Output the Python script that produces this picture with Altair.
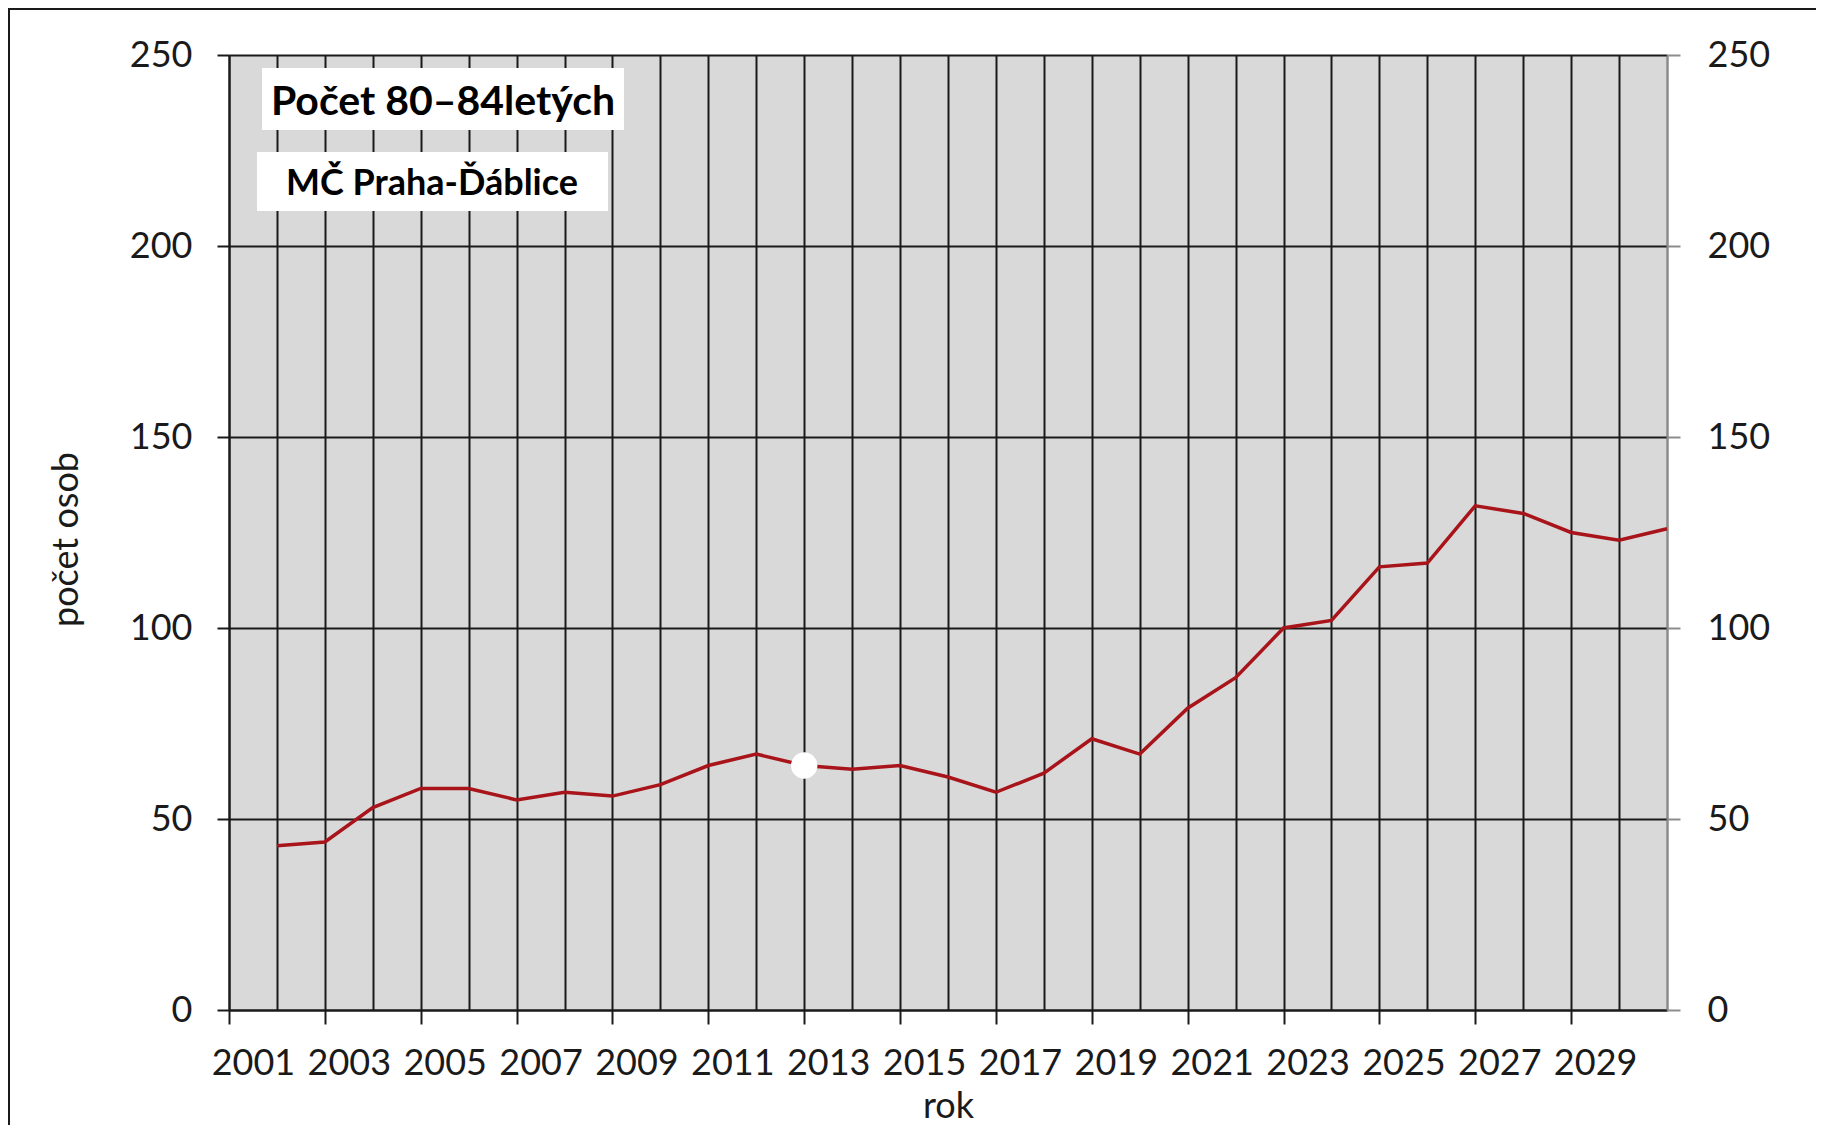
import altair as alt
import pandas as pd

# ---- data ----
roky = list(range(2001, 2031))
pocet = [43, 44, 53, 58, 58, 55, 57, 56, 59, 64, 67, 64, 63, 64, 61,
         57, 62, 71, 67, 79, 87, 100, 102, 116, 117, 132, 130, 125, 123, 126]
zvyrazneny_rok = [2012]
osa_x_roky = list(range(2001, 2032))
osa_y = [0, 50, 100, 150, 200, 250]
nadpis = "Počet 80–84letých"
podnadpis = "MČ Praha-Ďáblice"
titulek_x = "rok"
titulek_y = "počet osob"

df = pd.DataFrame({"rok": roky, "pocet": pocet})
df_hl = df[df["rok"].isin(zvyrazneny_rok)]

FONT = "Lato"
INK = "#1a1a1a"
GRAY = "#8c8c8c"
RED = "#a8141a"
FS = 36
W, H = 1438, 955

xscale = alt.Scale(domain=[2001, 2031], nice=False, zero=False)
yscale = alt.Scale(domain=[0, 250], nice=False)

odd = "datum.value % 2 == 1 && datum.value < 2031"

xaxis = alt.Axis(
    values=osa_x_roky, title=titulek_x, format="d",
    labelExpr="(" + odd + ") ? datum.label : ''",
    labelOffset=24, labelFlush=False, labelOverlap=False,
    labelFont=FONT, labelFontSize=FS, labelColor=INK, labelPadding=22,
    tickSize=14, tickWidth=2,
    tickColor={"condition": {"test": odd, "value": INK}, "value": "transparent"},
    grid=True, gridWidth=2,
    gridColor={"condition": {"test": "datum.value == 2031", "value": GRAY}, "value": INK},
    domainColor=INK, domainWidth=2,
    titleFont=FONT, titleFontSize=FS, titleFontWeight="normal", titleColor=INK,
    titleY=107, titleBaseline="alphabetic",
)

yaxis_left = alt.Axis(
    values=osa_y, title=titulek_y, orient="left",
    grid=True, gridColor=INK, gridWidth=2,
    domainColor=INK, domainWidth=2, tickColor=INK, tickWidth=2, tickSize=12,
    labelPadding=25, labelFont=FONT, labelFontSize=FS, labelColor=INK,
    titleFont=FONT, titleFontSize=FS, titleFontWeight="normal", titleColor=INK,
    titleX=-152, titleY=484, titleAngle=270, titleBaseline="alphabetic", titleAlign="center",
)

yaxis_right = alt.Axis(
    values=osa_y, title="", orient="right", grid=False,
    domainColor=GRAY, domainWidth=2, tickColor=GRAY, tickWidth=2, tickSize=13,
    labelPadding=27, labelFont=FONT, labelFontSize=FS, labelColor=INK,
)

line = alt.Chart(df).transform_calculate(pos="datum.rok + 1").mark_line(
    color=RED, strokeWidth=3.5
).encode(
    x=alt.X("pos:Q", scale=xscale, axis=xaxis),
    y=alt.Y("pocet:Q", scale=yscale, axis=yaxis_left),
)

dot = alt.Chart(df_hl).transform_calculate(pos="datum.rok + 1").mark_circle(
    color="white", opacity=1, size=700
).encode(
    x=alt.X("pos:Q", scale=xscale, axis=xaxis),
    y=alt.Y("pocet:Q", scale=yscale, axis=yaxis_right),
)

t1 = pd.DataFrame({"t": [nadpis]})
t2 = pd.DataFrame({"t": [podnadpis]})

box1 = alt.Chart(t1).mark_rect(fill="white").encode(
    x=alt.value(33), x2=alt.value(395), y=alt.value(13), y2=alt.value(75))
txt1 = alt.Chart(t1).mark_text(font=FONT, fontSize=41, fontWeight="bold", color="black",
                               align="center", baseline="alphabetic").encode(
    x=alt.value(214), y=alt.value(60), text="t:N")
box2 = alt.Chart(t2).mark_rect(fill="white").encode(
    x=alt.value(28), x2=alt.value(379), y=alt.value(97), y2=alt.value(156))
txt2 = alt.Chart(t2).mark_text(font=FONT, fontSize=36, fontWeight="bold", color="black",
                               align="center", baseline="alphabetic").encode(
    x=alt.value(203), y=alt.value(140), text="t:N")

border = alt.Chart(t1).mark_rect(fill="transparent", stroke=INK, strokeWidth=2).encode(
    x=alt.value(-220), x2=alt.value(1700), y=alt.value(-46), y2=alt.value(1200))

chart = alt.layer(line, dot, box1, txt1, box2, txt2, border).resolve_axis(
    y="independent"
).properties(
    width=W, height=H,
    autosize=alt.AutoSizeParams(type="none"),
    padding={"left": 221, "top": 47, "right": 149, "bottom": 115},
).configure_view(fill="#d9d9d9", strokeWidth=0)

chart.save("out.html", embed_options={"renderer": "svg", "actions": False})
